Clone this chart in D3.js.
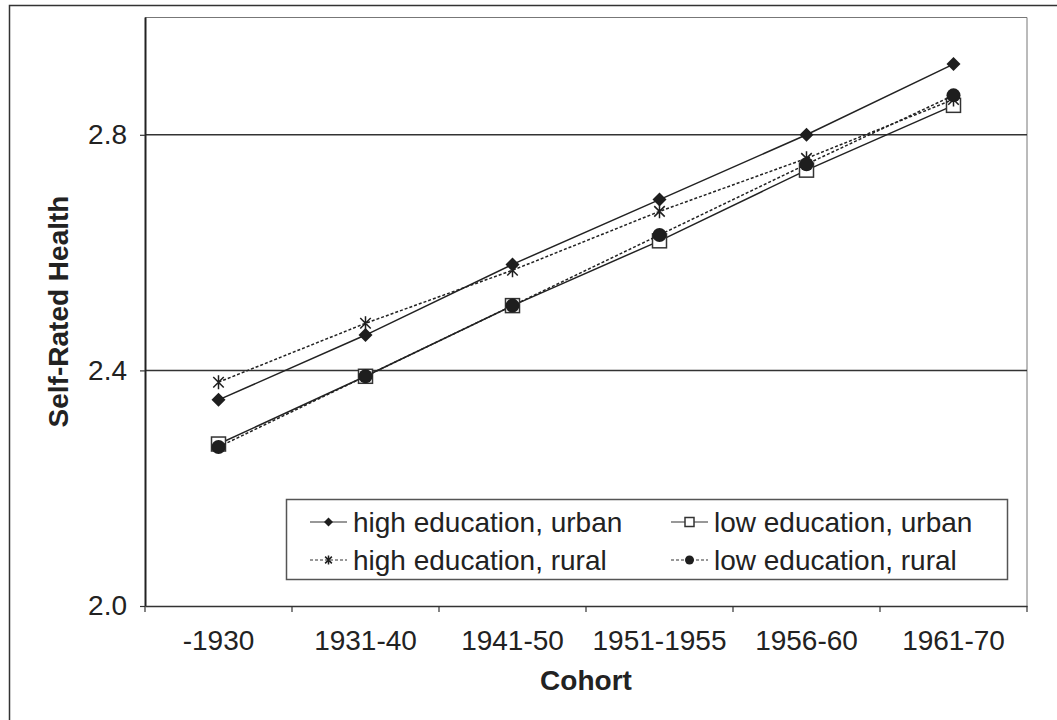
<!DOCTYPE html>
<html>
<head>
<meta charset="utf-8">
<script src="https://cdn.jsdelivr.net/npm/d3@7"></script>
<style>
  body { margin: 0; background: #fff; }
  text { font-family: "Liberation Sans", Arial, sans-serif; fill: #222; }
</style>
</head>
<body>
<div id="wrapper"></div>
<script>
// data
const cohorts = ['-1930', '1931-40', '1941-50', '1951-1955', '1956-60', '1961-70']
const highUrban = [2.35, 2.46, 2.58, 2.69, 2.80, 2.92]
const lowUrban = [2.275, 2.39, 2.51, 2.62, 2.74, 2.85]
const highRural = [2.38, 2.48, 2.57, 2.67, 2.76, 2.86]
const lowRural = [2.27, 2.39, 2.51, 2.63, 2.75, 2.867]
const yTicks = [2.0, 2.4, 2.8]

const seriesNames = ['high education, urban', 'low education, urban', 'high education, rural', 'low education, rural']
const seriesValues = [highUrban, lowUrban, highRural, lowRural]
const seriesMarker = ['diamond', 'square', 'star', 'circle']
const seriesDash = [null, null, '3,2', '3,2']

const series = seriesNames.map((name, i) => ({
  name: name,
  marker: seriesMarker[i],
  dash: seriesDash[i],
  values: seriesValues[i].map((v, j) => ({ cohort: cohorts[j], value: v }))
}))

// dimensions
let dimensions = {
  width: 1057,
  height: 720,
  margin: { top: 17, right: 30, bottom: 114, left: 145 }
}
dimensions.boundedWidth = dimensions.width - dimensions.margin.left - dimensions.margin.right
dimensions.boundedHeight = dimensions.height - dimensions.margin.top - dimensions.margin.bottom

const wrapper = d3.select('#wrapper')
  .append('svg')
    .attr('width', dimensions.width)
    .attr('height', dimensions.height)

// outer frame (runs off the bottom/right edges)
wrapper.append('rect')
  .attr('x', 9.5).attr('y', 5.5)
  .attr('width', 1060).attr('height', 730)
  .attr('fill', 'none')
  .attr('stroke', '#333')
  .attr('stroke-width', 1.5)

const bounds = wrapper.append('g')
  .attr('transform', `translate(${dimensions.margin.left}, ${dimensions.margin.top})`)

// scales
const xScale = d3.scaleBand()
  .domain(cohorts)
  .range([0, dimensions.boundedWidth])
  .padding(0)

const xCenter = c => xScale(c) + xScale.bandwidth() / 2

const yScale = d3.scaleLinear()
  .domain([2.0, 3.0])
  .range([dimensions.boundedHeight, 0])

// plot box top/right (light)
bounds.append('path')
  .attr('d', `M0,0.5H${dimensions.boundedWidth}V${dimensions.boundedHeight}`)
  .attr('fill', 'none')
  .attr('stroke', '#777')
  .attr('stroke-width', 1)

// gridlines
bounds.append('g')
  .selectAll('line')
  .data(yTicks.filter(d => d > 2.0))
  .join('line')
    .attr('x1', 0)
    .attr('x2', dimensions.boundedWidth)
    .attr('y1', d => yScale(d))
    .attr('y2', d => yScale(d))
    .attr('stroke', '#333')
    .attr('stroke-width', 1.5)

// y axis
const yAxis = bounds.append('g')
  .call(d3.axisLeft(yScale)
    .tickValues(yTicks)
    .tickFormat(d3.format('.1f'))
    .tickSize(5)
    .tickSizeOuter(0)
    .tickPadding(13))
yAxis.select('.domain').attr('stroke', '#222').attr('stroke-width', 2)
yAxis.selectAll('.tick line').attr('stroke', '#333').attr('stroke-width', 1.2)
yAxis.selectAll('.tick text')
  .attr('font-size', 28)
  .attr('font-family', '"Liberation Sans", Arial, sans-serif')
  .attr('fill', '#222')

// x axis
const xAxis = bounds.append('g')
  .attr('transform', `translate(0, ${dimensions.boundedHeight})`)
  .call(d3.axisBottom(xScale).tickSize(0).tickPadding(24))
xAxis.select('.domain').attr('stroke', '#333').attr('stroke-width', 1.6)
xAxis.selectAll('.tick text')
  .attr('font-size', 28)
  .attr('font-family', '"Liberation Sans", Arial, sans-serif')
  .attr('fill', '#222')

// x tick marks at band edges
const edges = cohorts.map(c => xScale(c)).concat([xScale.range()[1]])
xAxis.selectAll('.edge')
  .data(edges)
  .join('line')
    .attr('class', 'edge')
    .attr('x1', d => d).attr('x2', d => d)
    .attr('y1', 0).attr('y2', 6)
    .attr('stroke', '#333')
    .attr('stroke-width', 1.2)

// axis titles
wrapper.append('text')
  .attr('transform', `translate(68, ${dimensions.margin.top + dimensions.boundedHeight / 2}) rotate(-90)`)
  .attr('text-anchor', 'middle')
  .attr('font-size', 28)
  .attr('font-weight', 'bold')
  .text('Self-Rated Health')

wrapper.append('text')
  .attr('x', dimensions.margin.left + dimensions.boundedWidth / 2)
  .attr('y', 690)
  .attr('text-anchor', 'middle')
  .attr('font-size', 28)
  .attr('font-weight', 'bold')
  .text('Cohort')

// markers
function drawMarker(g, type, size) {
  const s = size
  if (type === 'diamond') {
    g.append('path')
      .attr('d', `M0,${-s}L${s},0L0,${s}L${-s},0Z`)
      .attr('fill', '#1e1e1e')
  } else if (type === 'square') {
    g.append('rect')
      .attr('x', -s).attr('y', -s)
      .attr('width', 2 * s).attr('height', 2 * s)
      .attr('fill', '#fff')
      .attr('stroke', '#333')
      .attr('stroke-width', 1.5)
  } else if (type === 'circle') {
    g.append('circle')
      .attr('r', s)
      .attr('fill', '#1e1e1e')
  } else if (type === 'star') {
    const a = s * 0.75
    g.append('path')
      .attr('d', `M${-a},${-a}L${a},${a}M${-a},${a}L${a},${-a}M0,${-s}L0,${s}`)
      .attr('fill', 'none')
      .attr('stroke', '#1e1e1e')
      .attr('stroke-width', 1.5)
  }
}

const lineGenerator = d3.line()
  .x(d => xCenter(d.cohort))
  .y(d => yScale(d.value))

const seriesGroups = bounds.selectAll('.series')
  .data(series)
  .join('g')
    .attr('class', 'series')

seriesGroups.append('path')
  .attr('d', d => lineGenerator(d.values))
  .attr('fill', 'none')
  .attr('stroke', '#222')
  .attr('stroke-width', 1.5)
  .attr('stroke-dasharray', d => d.dash)

seriesGroups.each(function(s) {
  const g = d3.select(this)
  s.values.forEach(d => {
    const m = g.append('g')
      .attr('transform', `translate(${xCenter(d.cohort)}, ${yScale(d.value)})`)
    drawMarker(m, s.marker, 7)
  })
})

// legend
const legend = wrapper.append('g')
legend.append('rect')
  .attr('x', 286.5).attr('y', 499.5)
  .attr('width', 721).attr('height', 80)
  .attr('fill', '#fff')
  .attr('stroke', '#555')
  .attr('stroke-width', 1.5)

const legendCols = [310, 671]
const legendRows = [522, 560]

series.forEach((s, i) => {
  const lx = legendCols[i % 2]
  const ly = legendRows[Math.floor(i / 2)]
  const item = legend.append('g').attr('transform', `translate(${lx}, ${ly})`)
  item.append('line')
    .attr('x1', 0).attr('x2', 37)
    .attr('stroke', '#333')
    .attr('stroke-width', 1.2)
    .attr('stroke-dasharray', s.dash)
  const m = item.append('g').attr('transform', 'translate(18.5, 0)')
  drawMarker(m, s.marker, 4.5)
  item.append('text')
    .attr('x', 43)
    .attr('dy', '0.35em')
    .attr('font-size', 28)
    .text(s.name)
})
</script>
</body>
</html>
